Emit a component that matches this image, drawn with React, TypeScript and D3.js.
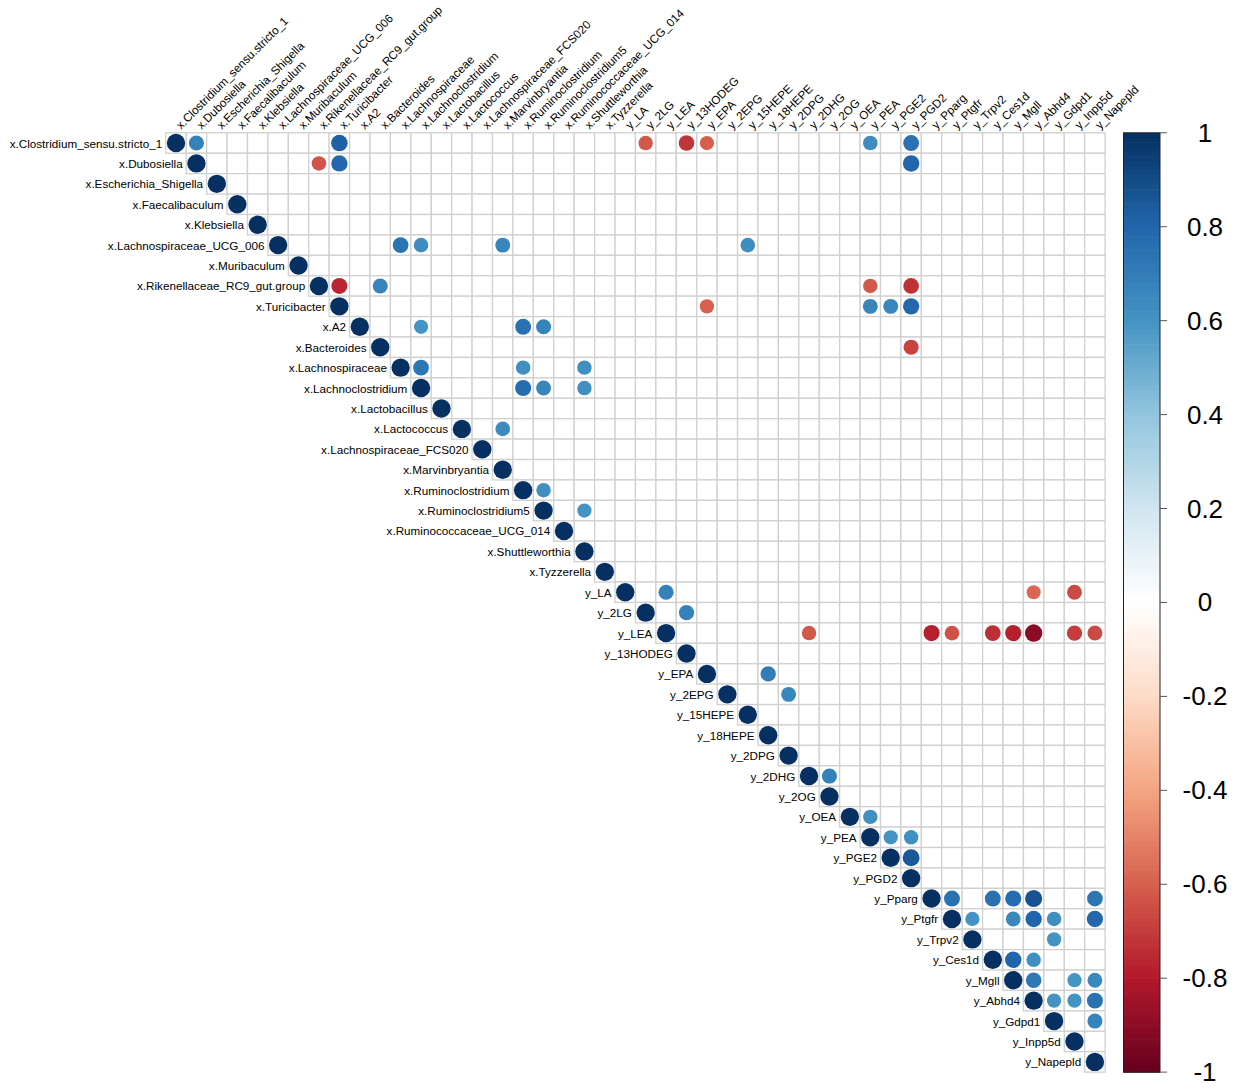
import React from "react";
import * as d3 from "d3";

const xVars = [
  "x.Clostridium_sensu.stricto_1", "x.Dubosiella", "x.Escherichia_Shigella", "x.Faecalibaculum",
  "x.Klebsiella", "x.Lachnospiraceae_UCG_006", "x.Muribaculum", "x.Rikenellaceae_RC9_gut.group",
  "x.Turicibacter", "x.A2", "x.Bacteroides", "x.Lachnospiraceae", "x.Lachnoclostridium",
  "x.Lactobacillus", "x.Lactococcus", "x.Lachnospiraceae_FCS020", "x.Marvinbryantia",
  "x.Ruminoclostridium", "x.Ruminoclostridium5", "x.Ruminococcaceae_UCG_014", "x.Shuttleworthia",
  "x.Tyzzerella",
];
const yVars = [
  "y_LA", "y_2LG", "y_LEA", "y_13HODEG", "y_EPA", "y_2EPG", "y_15HEPE", "y_18HEPE", "y_2DPG",
  "y_2DHG", "y_2OG", "y_OEA", "y_PEA", "y_PGE2", "y_PGD2", "y_Pparg", "y_Ptgfr", "y_Trpv2",
  "y_Ces1d", "y_Mgll", "y_Abhd4", "y_Gdpd1", "y_Inpp5d", "y_Napepld",
];
const variables = [...xVars, ...yVars];

// significant off-diagonal correlations: [row, column, r]
const corrPairs: [string, string, number][] = [
  ["x.Clostridium_sensu.stricto_1", "x.Dubosiella", 0.68],
  ["x.Clostridium_sensu.stricto_1", "x.Turicibacter", 0.82],
  ["x.Clostridium_sensu.stricto_1", "y_2LG", -0.62],
  ["x.Clostridium_sensu.stricto_1", "y_13HODEG", -0.72],
  ["x.Clostridium_sensu.stricto_1", "y_EPA", -0.6],
  ["x.Clostridium_sensu.stricto_1", "y_PEA", 0.63],
  ["x.Clostridium_sensu.stricto_1", "y_PGD2", 0.75],
  ["x.Dubosiella", "x.Rikenellaceae_RC9_gut.group", -0.63],
  ["x.Dubosiella", "x.Turicibacter", 0.79],
  ["x.Dubosiella", "y_PGD2", 0.8],
  ["x.Lachnospiraceae_UCG_006", "x.Lachnospiraceae", 0.74],
  ["x.Lachnospiraceae_UCG_006", "x.Lachnoclostridium", 0.63],
  ["x.Lachnospiraceae_UCG_006", "x.Marvinbryantia", 0.66],
  ["x.Lachnospiraceae_UCG_006", "y_15HEPE", 0.63],
  ["x.Rikenellaceae_RC9_gut.group", "x.Turicibacter", -0.76],
  ["x.Rikenellaceae_RC9_gut.group", "x.Bacteroides", 0.67],
  ["x.Rikenellaceae_RC9_gut.group", "y_PEA", -0.62],
  ["x.Rikenellaceae_RC9_gut.group", "y_PGD2", -0.73],
  ["x.Turicibacter", "y_EPA", -0.6],
  ["x.Turicibacter", "y_PEA", 0.66],
  ["x.Turicibacter", "y_PGE2", 0.66],
  ["x.Turicibacter", "y_PGD2", 0.79],
  ["x.A2", "x.Lachnoclostridium", 0.6],
  ["x.A2", "x.Ruminoclostridium", 0.75],
  ["x.A2", "x.Ruminoclostridium5", 0.67],
  ["x.Bacteroides", "y_PGD2", -0.68],
  ["x.Lachnospiraceae", "x.Lachnoclostridium", 0.73],
  ["x.Lachnospiraceae", "x.Ruminoclostridium", 0.62],
  ["x.Lachnospiraceae", "x.Shuttleworthia", 0.62],
  ["x.Lachnoclostridium", "x.Ruminoclostridium", 0.77],
  ["x.Lachnoclostridium", "x.Ruminoclostridium5", 0.66],
  ["x.Lachnoclostridium", "x.Shuttleworthia", 0.62],
  ["x.Lactococcus", "x.Marvinbryantia", 0.64],
  ["x.Ruminoclostridium", "x.Ruminoclostridium5", 0.62],
  ["x.Ruminoclostridium5", "x.Shuttleworthia", 0.6],
  ["y_LA", "y_LEA", 0.68],
  ["y_LA", "y_Abhd4", -0.58],
  ["y_LA", "y_Inpp5d", -0.66],
  ["y_2LG", "y_13HODEG", 0.68],
  ["y_LEA", "y_2DHG", -0.62],
  ["y_LEA", "y_Pparg", -0.78],
  ["y_LEA", "y_Ptgfr", -0.64],
  ["y_LEA", "y_Ces1d", -0.74],
  ["y_LEA", "y_Mgll", -0.78],
  ["y_LEA", "y_Abhd4", -0.9],
  ["y_LEA", "y_Inpp5d", -0.7],
  ["y_LEA", "y_Napepld", -0.66],
  ["y_EPA", "y_18HEPE", 0.7],
  ["y_2EPG", "y_2DPG", 0.66],
  ["y_2DHG", "y_2OG", 0.68],
  ["y_OEA", "y_PEA", 0.62],
  ["y_PEA", "y_PGE2", 0.6],
  ["y_PEA", "y_PGD2", 0.62],
  ["y_PGE2", "y_PGD2", 0.85],
  ["y_Pparg", "y_Ptgfr", 0.75],
  ["y_Pparg", "y_Ces1d", 0.75],
  ["y_Pparg", "y_Mgll", 0.77],
  ["y_Pparg", "y_Abhd4", 0.87],
  ["y_Pparg", "y_Napepld", 0.73],
  ["y_Ptgfr", "y_Trpv2", 0.6],
  ["y_Ptgfr", "y_Mgll", 0.65],
  ["y_Ptgfr", "y_Abhd4", 0.8],
  ["y_Ptgfr", "y_Gdpd1", 0.62],
  ["y_Ptgfr", "y_Napepld", 0.79],
  ["y_Trpv2", "y_Gdpd1", 0.6],
  ["y_Ces1d", "y_Mgll", 0.8],
  ["y_Ces1d", "y_Abhd4", 0.62],
  ["y_Mgll", "y_Abhd4", 0.72],
  ["y_Mgll", "y_Inpp5d", 0.6],
  ["y_Mgll", "y_Napepld", 0.65],
  ["y_Abhd4", "y_Gdpd1", 0.6],
  ["y_Abhd4", "y_Inpp5d", 0.6],
  ["y_Abhd4", "y_Napepld", 0.75],
  ["y_Gdpd1", "y_Napepld", 0.67],
];

const colorStops = [
  "#67001F", "#B2182B", "#D6604D", "#F4A582", "#FDDBC7", "#FFFFFF",
  "#D1E5F0", "#92C5DE", "#4393C3", "#2166AC", "#053061",
];
const legendTicks = [1, 0.8, 0.6, 0.4, 0.2, 0, -0.2, -0.4, -0.6, -0.8, -1];

const FONT = "'Liberation Sans', Arial, Helvetica, sans-serif";

export default function App() {
  const W = 1244, H = 1090;
  const gridLeft = 165.8, gridTop = 132.8;
  const n = variables.length;
  const cell = 20.42;
  const xs = d3.scaleBand<string>().domain(variables).range([gridLeft, gridLeft + n * cell]).padding(0);
  const ys = d3.scaleBand<string>().domain(variables).range([gridTop, gridTop + n * cell]).padding(0);
  const bw = xs.bandwidth();
  const color = d3
    .scaleLinear<string>()
    .domain(d3.range(colorStops.length).map((i) => -1 + (2 * i) / (colorStops.length - 1)))
    .range(colorStops)
    .interpolate(d3.interpolateRgb);
  const rScale = (v: number) => 0.45 * Math.sqrt(Math.abs(v)) * bw;

  const cells: { r: string; c: string }[] = [];
  variables.forEach((r, i) => variables.forEach((c, j) => { if (j >= i) cells.push({ r, c }); }));

  const points: [string, string, number][] = [
    ...variables.map((v) => [v, v, 1] as [string, string, number]),
    ...corrPairs,
  ];

  const barX = 1123.5, barW = 36.5, barTop = gridTop, barBottom = gridTop + n * cell;
  const ls = d3.scaleLinear().domain([1, -1]).range([barTop, barBottom]);
  const nBands = 200;
  const bands = d3.range(nBands).map((i) => {
    const v = 1 - (2 * (i + 0.5)) / nBands;
    return { v, y0: ls(1 - (2 * i) / nBands), y1: ls(1 - (2 * (i + 1)) / nBands) };
  });

  return (
    <svg width={W} height={H} style={{ position: "absolute", left: 0, top: 0, background: "#fff" }}>
      <rect x={0} y={0} width={W} height={H} fill="#fff" />
      <g>
        {cells.map(({ r, c }) => (
          <rect key={r + "|" + c} x={xs(c)} y={ys(r)} width={bw} height={bw}
            fill="#fff" stroke="#d0d0d0" strokeWidth={1.3} />
        ))}
      </g>
      <g>
        {points.map(([r, c, v]) => (
          <circle key={"p" + r + "|" + c} cx={(xs(c) as number) + bw / 2} cy={(ys(r) as number) + bw / 2}
            r={rScale(v)} fill={color(v)} />
        ))}
      </g>
      <g fontFamily={FONT} fontSize={11.7} fill="#000">
        {variables.map((v) => (
          <text key={"rl" + v} x={(xs(v) as number) - 3.5} y={(ys(v) as number) + bw / 2}
            textAnchor="end" dominantBaseline="central">{v}</text>
        ))}
        {variables.map((v) => {
          const x0 = (xs(v) as number) + bw / 2 + 5;
          const y0 = gridTop - 3;
          return (
            <text key={"cl" + v} x={0} y={0} transform={`translate(${x0},${y0}) rotate(-45)`}
              textAnchor="start">{v}</text>
          );
        })}
      </g>
      <g>
        {bands.map((b, i) => (
          <rect key={"b" + i} x={barX} y={b.y0} width={barW} height={b.y1 - b.y0 + 0.6} fill={color(b.v)} />
        ))}
        <rect x={barX} y={barTop} width={barW} height={barBottom - barTop} fill="none" stroke="#222" strokeWidth={1} />
        {legendTicks.map((t) => (
          <g key={"t" + t}>
            <line x1={barX + barW} x2={barX + barW + 7} y1={ls(t)} y2={ls(t)} stroke="#555" strokeWidth={1} />
            <text x={1205} y={ls(t)} textAnchor="middle" dominantBaseline="central"
              fontFamily={FONT} fontSize={26} fill="#000">{String(t)}</text>
          </g>
        ))}
      </g>
    </svg>
  );
}
